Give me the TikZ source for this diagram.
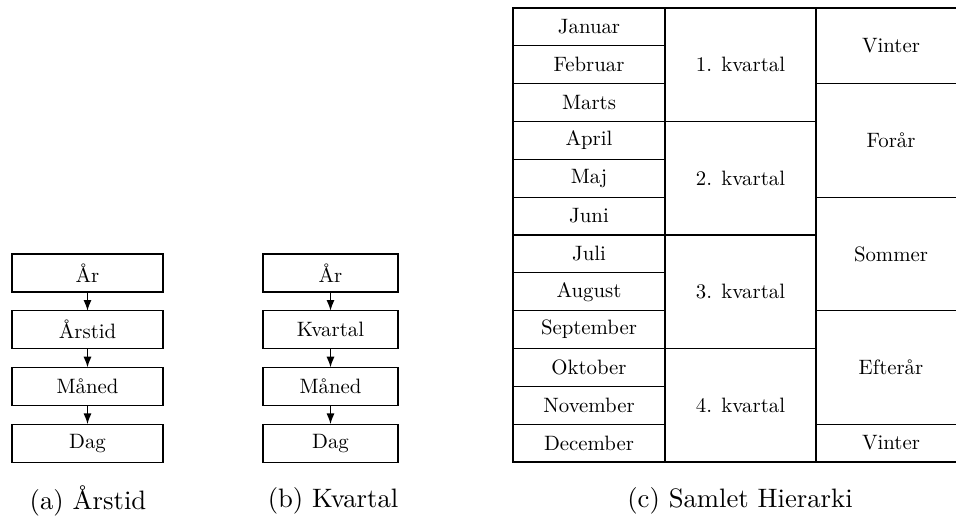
\documentclass[tikz,border=0pt]{standalone}
\usepackage{fontspec}
% 10pt design of Latin Modern, used at a reduced size inside the boxes
\newfontfamily\cellfont{lmroman10-regular.otf}
\usetikzlibrary{arrows.meta}
\begin{document}
\begin{tikzpicture}[x=0.375pt,y=-0.375pt,
  cell/.style={draw, line width=0.45pt, inner sep=0pt, outer sep=0pt,
    font=\cellfont\fontsize{7.8}{9}\selectfont},
  levelbox/.style={cell, minimum height=14.25pt},
  monthcell/.style={cell, minimum width=57pt, minimum height=14.19pt},
  quartercell/.style={cell, minimum width=56.6pt, minimum height=42.56pt},
  seasoncell/.style={cell, minimum width=56.25pt},
  arr/.style={-{Latex[length=4pt,width=3pt]}, line width=0.45pt},
  captext/.style={font=\fontsize{10}{12}\selectfont}]
\useasboundingbox (0,0) rectangle (956,525);

% (a) year -> season -> month -> day
\node[levelbox, minimum width=56.6pt] (a1) at (87.5,273)   {År};
\node[levelbox, minimum width=56.6pt] (a2) at (87.5,329.7) {Årstid};
\node[levelbox, minimum width=56.6pt] (a3) at (87.5,386.4) {Måned};
\node[levelbox, minimum width=56.6pt] (a4) at (87.5,443.1) {Dag};
\draw[arr] (a1) -- (a2);
\draw[arr] (a2) -- (a3);
\draw[arr] (a3) -- (a4);

% (b) year -> quarter -> month -> day
\node[levelbox, minimum width=50.6pt] (b1) at (330.5,273)   {År};
\node[levelbox, minimum width=50.6pt] (b2) at (330.5,329.7) {Kvartal};
\node[levelbox, minimum width=50.6pt] (b3) at (330.5,386.4) {Måned};
\node[levelbox, minimum width=50.6pt] (b4) at (330.5,443.1) {Dag};
\draw[arr] (b1) -- (b2);
\draw[arr] (b2) -- (b3);
\draw[arr] (b3) -- (b4);

% (c) combined hierarchy: months, quarters and seasons (row height 37.83)
\foreach \m [count=\i] in {Januar,Februar,Marts,April,Maj,Juni,Juli,August,September,Oktober,November,December}
  \node[monthcell] (m\i) at (589,{8+37.83*(\i-0.5)}) {\m};
\foreach \k in {1,2,3,4}
  \node[quartercell] (q\k) at (740.5,{8+37.83*(3*\k-1.5)}) {\k. kvartal};
\node[seasoncell, minimum height=28.37pt] (s1) at (891,{8+37.83*1})   {Vinter};
\node[seasoncell, minimum height=42.56pt] (s2) at (891,{8+37.83*3.5}) {Forår};
\node[seasoncell, minimum height=42.56pt] (s3) at (891,{8+37.83*6.5}) {Sommer};
\node[seasoncell, minimum height=42.56pt] (s4) at (891,{8+37.83*9.5}) {Efterår};
\node[seasoncell, minimum height=14.19pt] (s5) at (891,{8+37.83*11.5}) {Vinter};

% sub-captions
\node[captext] (capa) at (88,501)  {(a) Årstid};
\node[captext] (capb) at (333,501) {(b) Kvartal};
\node[captext] (capc) at (740,501) {(c) Samlet Hierarki};
\end{tikzpicture}
\end{document}
